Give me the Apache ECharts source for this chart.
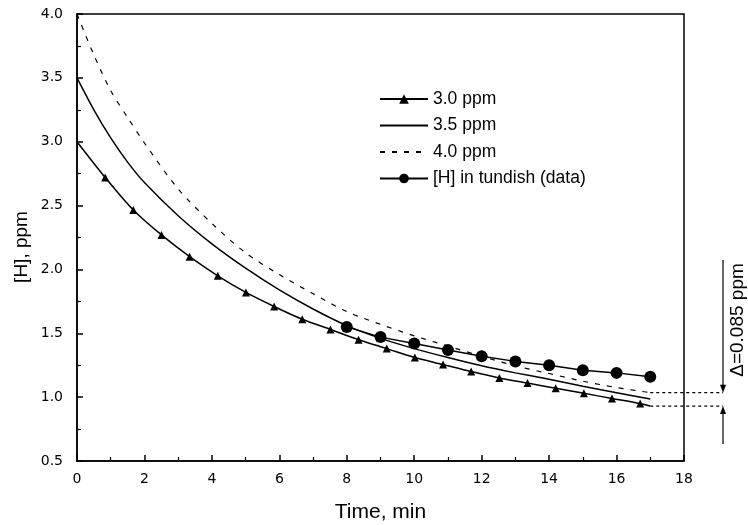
<!DOCTYPE html>
<html>
<head>
<meta charset="utf-8">
<script src="https://cdn.jsdelivr.net/npm/echarts@6/dist/echarts.min.js"></script>
<style>html,body{margin:0;padding:0;background:#fff}#c{width:748px;height:525px}</style>
</head>
<body>
<div id="c"></div>
<script>
// ---- data ----
const t30 = [0, 0.835, 1.67, 2.505, 3.34, 4.175, 5.01, 5.845, 6.68, 7.515, 8.35, 9.185, 10.02, 10.855, 11.69, 12.525, 13.36, 14.195, 15.03, 15.865, 16.7, 17];
const h30 = [3.0, 2.72, 2.465, 2.27, 2.10, 1.95, 1.82, 1.71, 1.61, 1.53, 1.45, 1.38, 1.31, 1.255, 1.20, 1.15, 1.11, 1.07, 1.03, 0.99, 0.95, 0.93];

const t35 = [0, 0.5, 1, 1.5, 2, 3, 4, 5, 6, 7, 8, 9, 10, 11, 12, 13, 14, 15, 16, 17];
const h35 = [3.5, 3.25, 3.03, 2.84, 2.68, 2.42, 2.20, 2.01, 1.84, 1.69, 1.56, 1.46, 1.38, 1.31, 1.245, 1.19, 1.14, 1.085, 1.035, 0.985];

const t40 = [0, 0.5, 1, 1.5, 2, 3, 4, 5, 6, 7, 8, 9, 10, 11, 12, 13, 14, 15, 16, 17];
const h40 = [4.0, 3.68, 3.40, 3.19, 2.99, 2.63, 2.36, 2.13, 1.96, 1.81, 1.67, 1.57, 1.48, 1.40, 1.32, 1.245, 1.185, 1.125, 1.075, 1.035];

const tData = [8, 9, 10, 11, 12, 13, 14, 15, 16, 17];
const hData = [1.55, 1.47, 1.42, 1.37, 1.32, 1.28, 1.25, 1.21, 1.19, 1.16];

const seriesNames = ['3.0 ppm', '3.5 ppm', '4.0 ppm', '[H] in tundish (data)'];
const xTitle = 'Time, min';
const yTitle = '[H], ppm';
const deltaText = '\u0394=0.085 ppm';

// ---- chart ----
const FONT = 'Arial, "Liberation Sans", sans-serif';
const TICKFONT = '"DejaVu Sans", Arial, sans-serif';
const chart = echarts.init(document.getElementById('c'), null, {renderer: 'canvas'});

function pairs(ts, hs) { return ts.map((t, i) => [t, hs[i]]); }

const d30 = pairs(t30, h30).map((p, i, a) => (i === 0 || i === a.length - 1) ? {value: p, symbol: 'none'} : p);
const noMark = {color: 'rgba(0,0,0,0)', borderWidth: 0};

const option = {
  backgroundColor: '#fff',
  animation: false,
  textStyle: {fontFamily: FONT, color: '#000'},
  grid: {left: 77, top: 14, right: 64, bottom: 64, outerBoundsMode: 'none', containLabel: false,
         show: true, borderColor: '#000', borderWidth: 1.5, backgroundColor: 'transparent'},
  legend: {
    orient: 'vertical', left: 374, top: 85,
    itemWidth: 48, itemHeight: 12, itemGap: 8.5,
    textStyle: {fontFamily: FONT, fontSize: 17.5, lineHeight: 18, color: '#000', padding: [0, 0, 0, 0]},
    data: seriesNames
  },
  xAxis: {
    type: 'value', min: 0, max: 18, interval: 2,
    name: xTitle, nameLocation: 'middle', nameGap: 41,
    nameTextStyle: {fontFamily: FONT, fontSize: 21, color: '#000'},
    axisLine: {lineStyle: {color: '#000', width: 1.5}},
    axisTick: {inside: true, length: 6, lineStyle: {color: '#000', width: 1.5}},
    minorTick: {show: true, splitNumber: 2, length: 4, lineStyle: {color: '#000', width: 1.2}},
    axisLabel: {fontFamily: TICKFONT, fontSize: 14, color: '#000', margin: 11},
    splitLine: {show: false}
  },
  yAxis: {
    type: 'value', min: 0.5, max: 4.0, interval: 0.5,
    axisLine: {show: true, lineStyle: {color: '#000', width: 1.5}},
    axisTick: {show: true, inside: true, length: 6, lineStyle: {color: '#000', width: 1.5}},
    minorTick: {show: true, splitNumber: 2, length: 4, lineStyle: {color: '#000', width: 1.2}},
    axisLabel: {fontFamily: TICKFONT, fontSize: 14, color: '#000', margin: 14, formatter: v => v.toFixed(1)},
    splitLine: {show: false}
  },
  series: [
    {name: seriesNames[0], type: 'line', smooth: 0.3, data: d30,
     symbol: 'triangle', symbolSize: 8, showSymbol: true,
     lineStyle: {color: '#000', width: 1.5}, itemStyle: {color: '#000'}, z: 3},
    {name: seriesNames[1], type: 'line', smooth: 0.3, data: pairs(t35, h35),
     symbol: 'circle', showSymbol: false, lineStyle: {color: '#000', width: 1.5}, itemStyle: noMark},
    {name: seriesNames[2], type: 'line', smooth: 0.3, data: pairs(t40, h40),
     symbol: 'circle', showSymbol: false, lineStyle: {color: '#000', width: 1.2, type: [5, 7]}, itemStyle: noMark},
    {name: seriesNames[3], type: 'line', data: pairs(tData, hData),
     symbol: 'circle', symbolSize: 12, lineStyle: {color: '#000', width: 1.5}, itemStyle: {color: '#000'}, z: 4}
  ]
};
chart.setOption(option);

// annotation on the right: dotted levels at the curve ends and a Δ marker
const xEnd = chart.convertToPixel({gridIndex: 0}, [17, 1])[0];
const yUp = chart.convertToPixel({gridIndex: 0}, [17, h40[h40.length - 1]])[1];
const yLo = chart.convertToPixel({gridIndex: 0}, [17, h30[h30.length - 1]])[1];
const xV = 723;
const dotted = {stroke: '#000', lineWidth: 1.2, lineDash: [3, 3]};
chart.setOption({
  graphic: [
    {type: 'text', x: 22, y: 247, rotation: Math.PI / 2,
     style: {text: yTitle, fontFamily: FONT, fontSize: 19, fill: '#000', align: 'center', verticalAlign: 'middle'}, silent: true},
    {type: 'line', shape: {x1: xEnd, y1: yUp, x2: xV, y2: yUp}, style: dotted, silent: true},
    {type: 'line', shape: {x1: xEnd, y1: yLo, x2: xV, y2: yLo}, style: dotted, silent: true},
    {type: 'line', shape: {x1: xV, y1: 260, x2: xV, y2: yUp - 6}, style: {stroke: '#000', lineWidth: 1.2}, silent: true},
    {type: 'polygon', shape: {points: [[xV - 3, yUp - 8], [xV + 3, yUp - 8], [xV, yUp]]}, style: {fill: '#000'}, silent: true},
    {type: 'line', shape: {x1: xV, y1: 444, x2: xV, y2: yLo + 6}, style: {stroke: '#000', lineWidth: 1.2}, silent: true},
    {type: 'polygon', shape: {points: [[xV - 3, yLo + 8], [xV + 3, yLo + 8], [xV, yLo]]}, style: {fill: '#000'}, silent: true},
    {type: 'text', x: 738, y: 320, rotation: Math.PI / 2,
     style: {text: deltaText, fontFamily: FONT, fontSize: 19, fill: '#000', align: 'center', verticalAlign: 'middle'}, silent: true}
  ]
});
</script>
</body>
</html>
